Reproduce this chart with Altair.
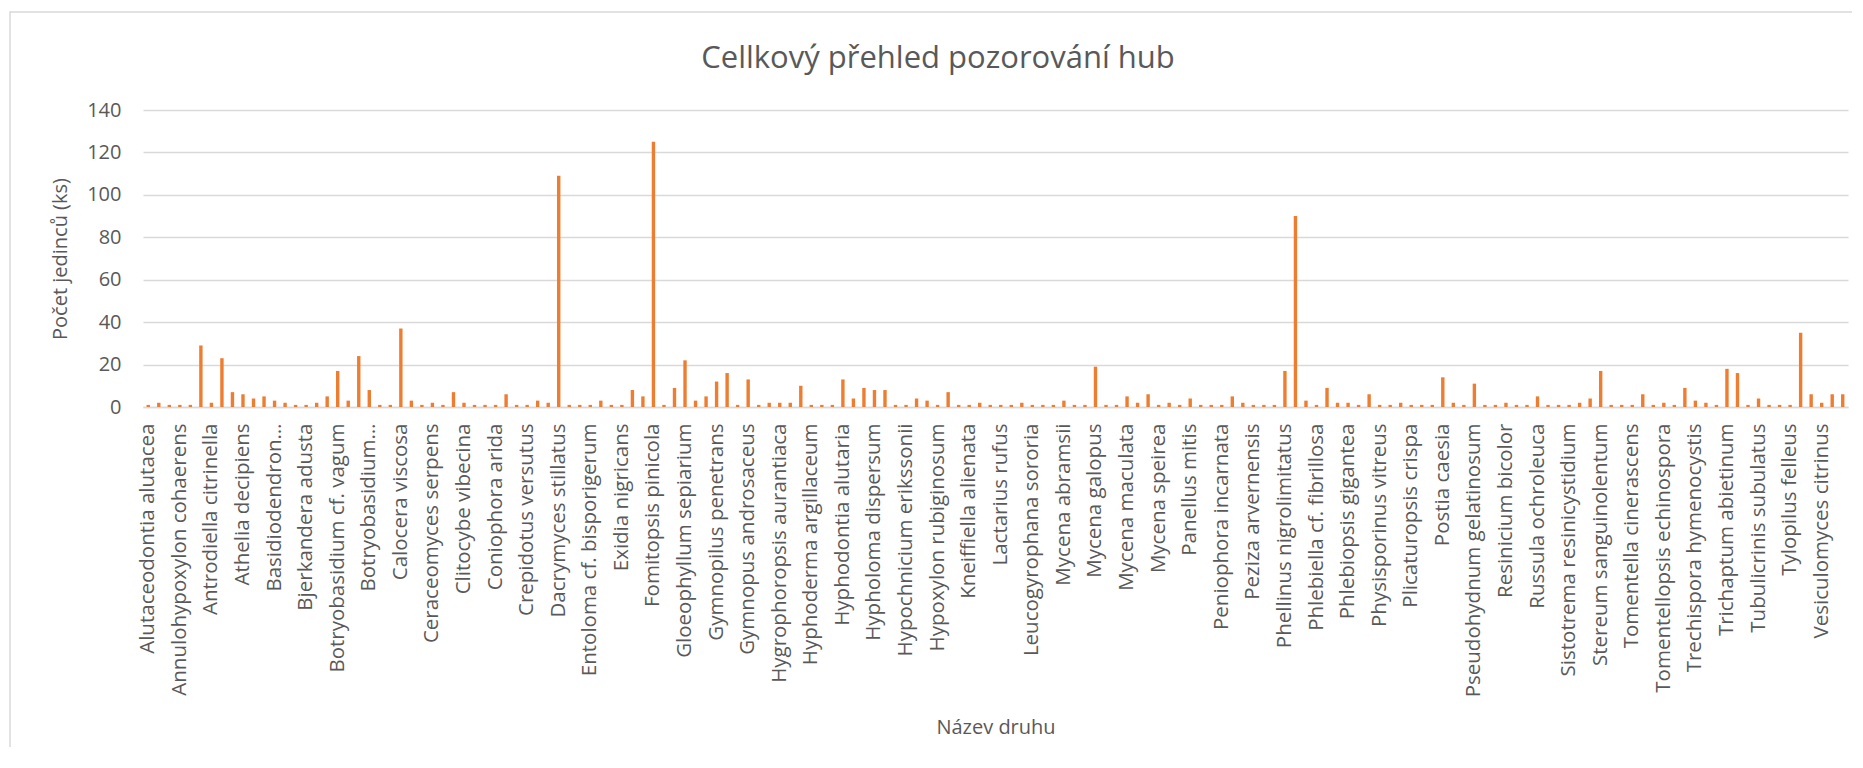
import altair as alt
import pandas as pd

# observation counts, one per species (162 species, every third labelled on the axis)
values = [
    1, 2, 1, 1, 1, 29, 2, 23, 7, 6, 4, 5, 3, 2, 1, 1, 2, 5, 17, 3, 24, 8, 1, 1, 37, 3, 1,
    2, 1, 7, 2, 1, 1, 1, 6, 1, 1, 3, 2, 109, 1, 1, 1, 3, 1, 1, 8, 5, 125, 1, 9, 22, 3, 5, 12,
    16, 1, 13, 1, 2, 2, 2, 10, 1, 1, 1, 13, 4, 9, 8, 8, 1, 1, 4, 3, 1, 7, 1, 1, 2, 1, 1,
    1, 2, 1, 1, 1, 3, 1, 1, 19, 1, 1, 5, 2, 6, 1, 2, 1, 4, 1, 1, 1, 5, 2, 1, 1, 1, 17, 90,
    3, 1, 9, 2, 2, 1, 6, 1, 1, 2, 1, 1, 1, 14, 2, 1, 11, 1, 1, 2, 1, 1, 5, 1, 1, 1, 2, 4,
    17, 1, 1, 1, 6, 1, 2, 1, 9, 3, 2, 1, 18, 16, 1, 4, 1, 1, 1, 35, 6, 2, 6, 6,
]

# axis labels shown (every third species)
names = [
    "Alutaceodontia alutacea", "Annulohypoxylon cohaerens", "Antrodiella citrinella",
    "Athelia decipiens", "Basidiodendron…", "Bjerkandera adusta",
    "Botryobasidium cf. vagum", "Botryobasidium…", "Calocera viscosa",
    "Ceraceomyces serpens", "Clitocybe vibecina", "Coniophora arida",
    "Crepidotus versutus", "Dacrymyces stillatus", "Entoloma cf. bisporigerum",
    "Exidia nigricans", "Fomitopsis pinicola", "Gloeophyllum sepiarium",
    "Gymnopilus penetrans", "Gymnopus androsaceus", "Hygrophoropsis aurantiaca",
    "Hyphoderma argillaceum", "Hyphodontia alutaria", "Hypholoma dispersum",
    "Hypochnicium erikssonii", "Hypoxylon rubiginosum", "Kneiffiella alienata",
    "Lactarius rufus", "Leucogyrophana sororia", "Mycena abramsii",
    "Mycena galopus", "Mycena maculata", "Mycena speirea",
    "Panellus mitis", "Peniophora incarnata", "Peziza arvernensis",
    "Phellinus nigrolimitatus", "Phlebiella cf. fibrillosa", "Phlebiopsis gigantea",
    "Physisporinus vitreus", "Plicaturopsis crispa", "Postia caesia",
    "Pseudohydnum gelatinosum", "Resinicium bicolor", "Russula ochroleuca",
    "Sistotrema resinicystidium", "Stereum sanguinolentum", "Tomentella cinerascens",
    "Tomentellopsis echinospora", "Trechispora hymenocystis", "Trichaptum abietinum",
    "Tubulicrinis subulatus", "Tylopilus felleus", "Vesiculomyces citrinus",
]

y_ticks = [0, 20, 40, 60, 80, 100, 120, 140]
title_text = "Cellkový přehled pozorování hub"

df = pd.DataFrame({"idx": list(range(len(values))), "count": values})
label_js = "[" + ",".join("'" + n + "'" for n in names) + "][datum.value / 3]"

FONT = "Open Sans"
GREY = "#595959"
W, H = 1705, 297

bars = alt.Chart(df).mark_bar(color="#ED7D31", size=3.4).encode(
    x=alt.X(
        "idx:O",
        scale=alt.Scale(paddingInner=0, paddingOuter=0),
        axis=alt.Axis(
            title="Název druhu",
            values=list(range(0, len(values), 3)),
            labelExpr=label_js,
            labelAngle=-90,
            labelAlign="right",
            labelBaseline="middle",
            labelPadding=16,
            labelFontSize=20.5,
            labelLimit=400,
            ticks=False,
            domainColor="#D9D9D9",
            domainWidth=1.5,
            titleY=320,
            titleBaseline="middle",
            titleFontSize=20,
        ),
    ),
    y=alt.Y(
        "count:Q",
        scale=alt.Scale(domain=[0, 140]),
        axis=alt.Axis(
            title="Počet jedinců (ks)",
            values=y_ticks,
            domain=False,
            ticks=False,
            labelPadding=22,
            labelFontSize=20,
            gridColor="#D9D9D9",
            gridWidth=1.5,
            titleX=-83,
            titleY=H / 2,
            titleAngle=-90,
            titleAlign="center",
            titleBaseline="middle",
            titleFontSize=20,
        ),
    ),
)

single = pd.DataFrame({"f": [0]})

frame = alt.Chart(single).mark_rect(
    fillOpacity=0, stroke="#D9D9D9", strokeWidth=1.5
).encode(
    x=alt.value(-133), x2=alt.value(W + 60), y=alt.value(-98), y2=alt.value(H + 400)
)

title = alt.Chart(single).mark_text(
    font=FONT, fontSize=31, color=GREY, align="center", baseline="alphabetic"
).encode(
    x=alt.value(795), y=alt.value(-42), text=alt.value(title_text)
)

chart = alt.layer(frame, bars, title).properties(
    width=W,
    height=H,
    padding={"left": 135, "top": 102, "right": 4, "bottom": 340},
    autosize=alt.AutoSizeParams(type="none"),
).configure_view(stroke=None).configure_axis(
    labelFont=FONT, titleFont=FONT, labelColor=GREY, titleColor=GREY,
    titleFontWeight="normal", grid=True,
).configure_axisX(grid=False)

chart.save("out.html", embed_options={"renderer": "svg", "actions": False})
